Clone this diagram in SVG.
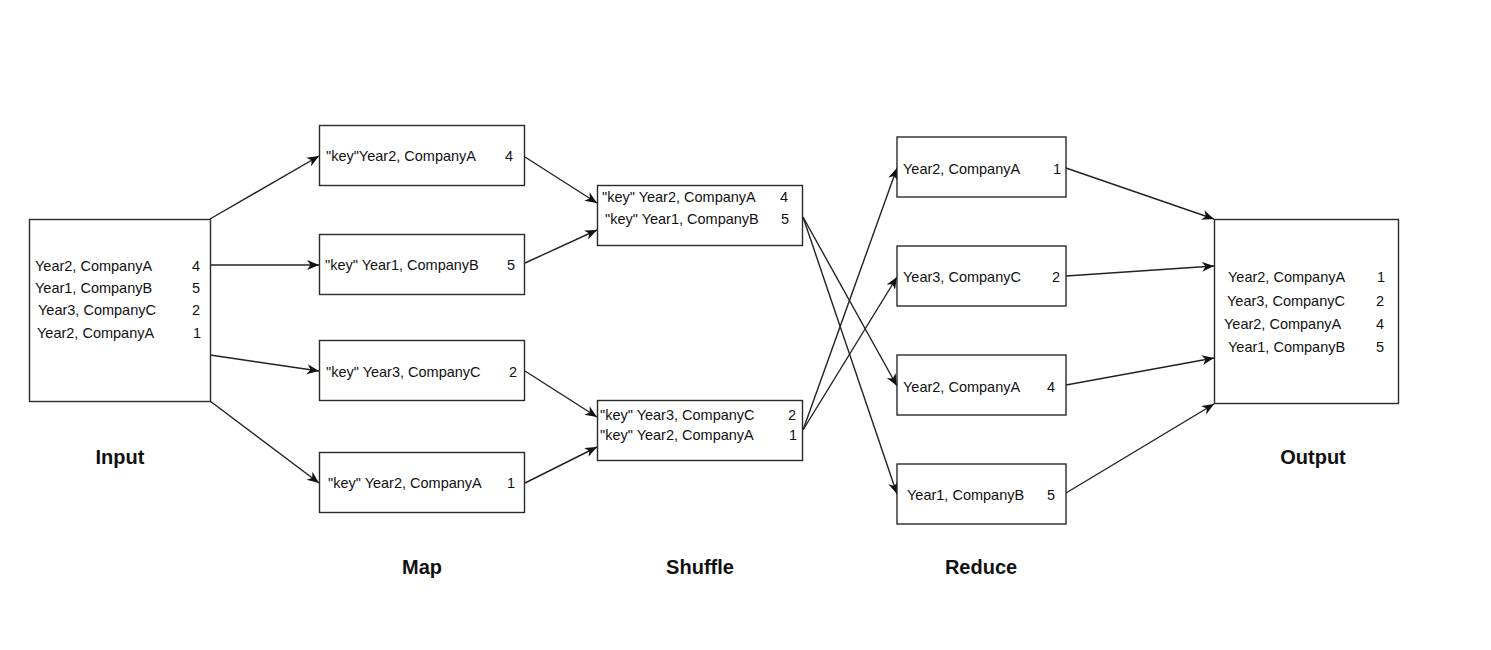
<svg xmlns="http://www.w3.org/2000/svg" width="1491" height="650" viewBox="0 0 1491 650">
<style>
.box{fill:#fff;stroke:#2a2a2a;stroke-width:1.4}
.t{font-family:"Liberation Sans",Arial,sans-serif;font-size:14.5px;fill:#111}
.lbl{font-family:"Liberation Sans",Arial,sans-serif;font-size:20px;font-weight:bold;fill:#111;text-anchor:middle}
.c{fill:none;stroke:#222;stroke-width:1.4;marker-end:url(#arr)}
</style>
<defs>
<marker id="arr" markerUnits="userSpaceOnUse" markerWidth="14" markerHeight="12" refX="12" refY="5" orient="auto">
<path d="M0,0 L12,5 L0,10 L3.5,5 z" fill="#111"/>
</marker>
</defs>
<rect width="1491" height="650" fill="#fff"/>
<g id="connectors">
<line class="c" x1="210" y1="219" x2="319" y2="156"/>
<line class="c" x1="210" y1="265" x2="319" y2="265"/>
<line class="c" x1="210" y1="355" x2="319" y2="371"/>
<line class="c" x1="210" y1="401" x2="319" y2="483"/>
<line class="c" x1="525" y1="157" x2="597" y2="203"/>
<line class="c" x1="525" y1="263" x2="597" y2="230"/>
<line class="c" x1="525" y1="371" x2="597" y2="417"/>
<line class="c" x1="525" y1="483" x2="597" y2="447"/>
<line class="c" x1="803" y1="217" x2="897" y2="386"/>
<line class="c" x1="803" y1="217" x2="897" y2="494"/>
<line class="c" x1="803" y1="430" x2="897" y2="168"/>
<line class="c" x1="803" y1="430" x2="897" y2="277"/>
<line class="c" x1="1066" y1="168" x2="1214" y2="219"/>
<line class="c" x1="1066" y1="276" x2="1214" y2="266"/>
<line class="c" x1="1066" y1="385" x2="1214" y2="358"/>
<line class="c" x1="1066" y1="493" x2="1214" y2="404"/>
</g>
<g id="input">
<rect class="box" x="29.5" y="219.5" width="181" height="182"/>
<text class="t" x="35" y="271">Year2, CompanyA</text><text class="t" x="192" y="271">4</text>
<text class="t" x="35" y="293">Year1, CompanyB</text><text class="t" x="192" y="293">5</text>
<text class="t" x="38" y="315">Year3, CompanyC</text><text class="t" x="192" y="315">2</text>
<text class="t" x="37" y="338">Year2, CompanyA</text><text class="t" x="193" y="338">1</text>
</g>
<g id="map1">
<rect class="box" x="319.5" y="125.5" width="205" height="60"/>
<text class="t" x="326" y="161">"key"Year2, CompanyA</text><text class="t" x="505" y="161">4</text>
</g>
<g id="map2">
<rect class="box" x="319.5" y="234.5" width="205" height="60"/>
<text class="t" x="325" y="270">"key" Year1, CompanyB</text><text class="t" x="507" y="270">5</text>
</g>
<g id="map3">
<rect class="box" x="319.5" y="340.5" width="205" height="60"/>
<text class="t" x="326" y="377">"key" Year3, CompanyC</text><text class="t" x="509" y="377">2</text>
</g>
<g id="map4">
<rect class="box" x="319.5" y="452.5" width="205" height="60"/>
<text class="t" x="328" y="488">"key" Year2, CompanyA</text><text class="t" x="507" y="488">1</text>
</g>
<g id="shuffle1">
<rect class="box" x="597.5" y="185.5" width="205" height="60"/>
<text class="t" x="602" y="202">"key" Year2, CompanyA</text><text class="t" x="780" y="202">4</text>
<text class="t" x="605" y="224">"key" Year1, CompanyB</text><text class="t" x="781" y="224">5</text>
</g>
<g id="shuffle2">
<rect class="box" x="597.5" y="400.5" width="205" height="60"/>
<text class="t" x="600" y="420">"key" Year3, CompanyC</text><text class="t" x="788" y="420">2</text>
<text class="t" x="600" y="440">"key" Year2, CompanyA</text><text class="t" x="789" y="440">1</text>
</g>
<g id="reduce1">
<rect class="box" x="897" y="137" width="169" height="60"/>
<text class="t" x="903" y="174">Year2, CompanyA</text><text class="t" x="1053" y="174">1</text>
</g>
<g id="reduce2">
<rect class="box" x="897" y="246" width="169" height="60"/>
<text class="t" x="903" y="282">Year3, CompanyC</text><text class="t" x="1052" y="282">2</text>
</g>
<g id="reduce3">
<rect class="box" x="897" y="355" width="169" height="60"/>
<text class="t" x="903" y="392">Year2, CompanyA</text><text class="t" x="1047" y="392">4</text>
</g>
<g id="reduce4">
<rect class="box" x="897" y="464" width="169" height="60"/>
<text class="t" x="907" y="500">Year1, CompanyB</text><text class="t" x="1047" y="500">5</text>
</g>
<g id="output">
<rect class="box" x="1214.5" y="219.5" width="184" height="184"/>
<text class="t" x="1228" y="282">Year2, CompanyA</text><text class="t" x="1377" y="282">1</text>
<text class="t" x="1227" y="306">Year3, CompanyC</text><text class="t" x="1376" y="306">2</text>
<text class="t" x="1224" y="329">Year2, CompanyA</text><text class="t" x="1376" y="329">4</text>
<text class="t" x="1228" y="352">Year1, CompanyB</text><text class="t" x="1376" y="352">5</text>
</g>
<g id="labels">
<text class="lbl" x="120" y="464">Input</text>
<text class="lbl" x="422" y="574">Map</text>
<text class="lbl" x="700" y="574">Shuffle</text>
<text class="lbl" x="981" y="574">Reduce</text>
<text class="lbl" x="1313" y="464">Output</text>
</g>
</svg>
